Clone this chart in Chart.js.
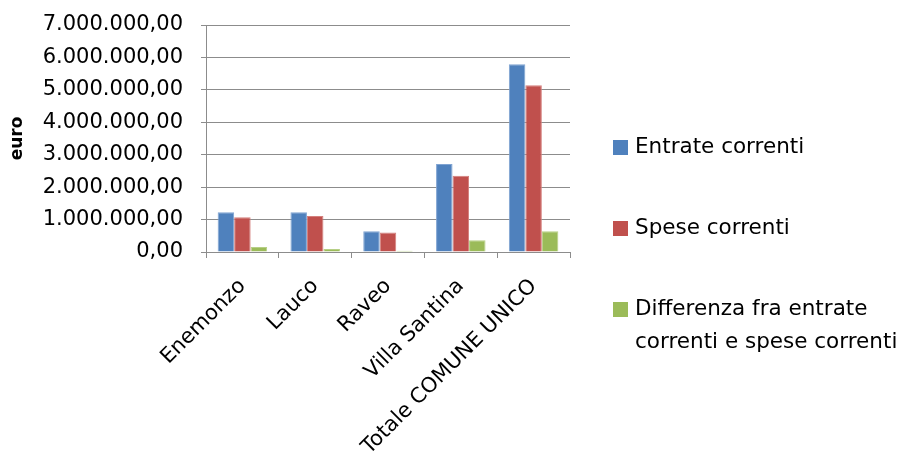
<!DOCTYPE html>
<html>
<head>
<meta charset="utf-8">
<script src="https://cdn.jsdelivr.net/npm/chart.js@4/dist/chart.umd.min.js"></script>
<style>
  html, body { margin: 0; padding: 0; background: #fff; }
  #wrap { width: 902px; height: 461px; position: relative; }
</style>
</head>
<body>
<div id="wrap"><canvas id="c" width="902" height="461"></canvas></div>
<script>
// Comuni e totale del comune unico
const categories = ['Enemonzo', 'Lauco', 'Raveo', 'Villa Santina', 'Totale COMUNE UNICO'];

// Valori in euro
const entrateCorrenti = [1225000, 1225000, 640000, 2710000, 5790000];
const speseCorrenti   = [1070000, 1110000, 600000, 2350000, 5140000];
const differenza      = [155000, 90000, 40000, 360000, 640000];

const seriesLabels = [
  'Entrate correnti',
  'Spese correnti',
  ['Differenza fra entrate', 'correnti e spese correnti']
];

const yTicks = [0, 1000000, 2000000, 3000000, 4000000, 5000000, 6000000, 7000000];

const FONT = 'DejaVu Sans';
const GRID = '#8c8c8c';

// Formato numerico italiano: 1.000.000,00
function formatIt(v) {
  const parts = Math.round(v).toString().replace(/\B(?=(\d{3})+(?!\d))/g, '.');
  return parts + ',00';
}

// Legenda verticale disegnata a destra dell'area del grafico
const sideLegend = {
  id: 'sideLegend',
  afterDraw(chart) {
    const ctx = chart.ctx;
    const rows = [147, 228, 309];
    const lineGap = 33;
    ctx.save();
    ctx.font = '21.5px "' + FONT + '"';
    ctx.textBaseline = 'middle';
    ctx.textAlign = 'left';
    chart.data.datasets.forEach((ds, i) => {
      const y = rows[i];
      ctx.fillStyle = ds.backgroundColor;
      ctx.fillRect(613, y - 7, 15, 15);
      ctx.fillStyle = '#000';
      const lines = Array.isArray(seriesLabels[i]) ? seriesLabels[i] : [seriesLabels[i]];
      lines.forEach((t, k) => ctx.fillText(t, 635, y + k * lineGap));
    });
    ctx.restore();
  }
};

new Chart(document.getElementById('c'), {
  type: 'bar',
  data: {
    labels: categories,
    datasets: [
      { label: 'Entrate correnti', data: entrateCorrenti, backgroundColor: '#4F81BD', borderColor: '#7fa3d2', borderWidth: 1 },
      { label: 'Spese correnti', data: speseCorrenti, backgroundColor: '#C0504D', borderColor: '#d47f7c', borderWidth: 1 },
      { label: 'Differenza fra entrate correnti e spese correnti', data: differenza, backgroundColor: '#9BBB59', borderColor: '#b6cf86', borderWidth: 1 }
    ]
  },
  options: {
    responsive: false,
    animation: false,
    devicePixelRatio: 1,
    layout: { padding: { top: 25, right: 332, bottom: 0, left: 0 } },
    datasets: { bar: { categoryPercentage: 0.68, barPercentage: 1.0 } },
    plugins: {
      legend: { display: false },
      tooltip: { enabled: false }
    },
    scales: {
      x: {
        grid: {
          offset: true,
          drawOnChartArea: false,
          drawTicks: true,
          tickLength: 6,
          color: GRID
        },
        border: { display: true, color: GRID },
        ticks: {
          color: '#000',
          font: { family: FONT, size: 21 },
          minRotation: 45,
          maxRotation: 45,
          autoSkip: false,
          padding: 16
        },
        afterFit(scale) { scale.height = 209; }
      },
      y: {
        min: 0,
        max: 7000000,
        afterBuildTicks(scale) { scale.ticks = yTicks.map(v => ({ value: v })); },
        grid: {
          color: GRID,
          tickLength: 5,
          drawTicks: true
        },
        border: { display: true, color: GRID },
        ticks: {
          color: '#000',
          font: { family: FONT, size: 21 },
          padding: 18,
          callback: (v) => formatIt(v)
        },
        title: {
          display: true,
          text: 'euro',
          color: '#000',
          font: { family: FONT, size: 17, weight: '600' },
          padding: { top: 7, bottom: 0 }
        },
        afterFit(scale) {
          scale.width = 206;
          scale.paddingTop = 0;
          scale.paddingBottom = 0;
        }
      }
    }
  },
  plugins: [sideLegend]
});
</script>
</body>
</html>
